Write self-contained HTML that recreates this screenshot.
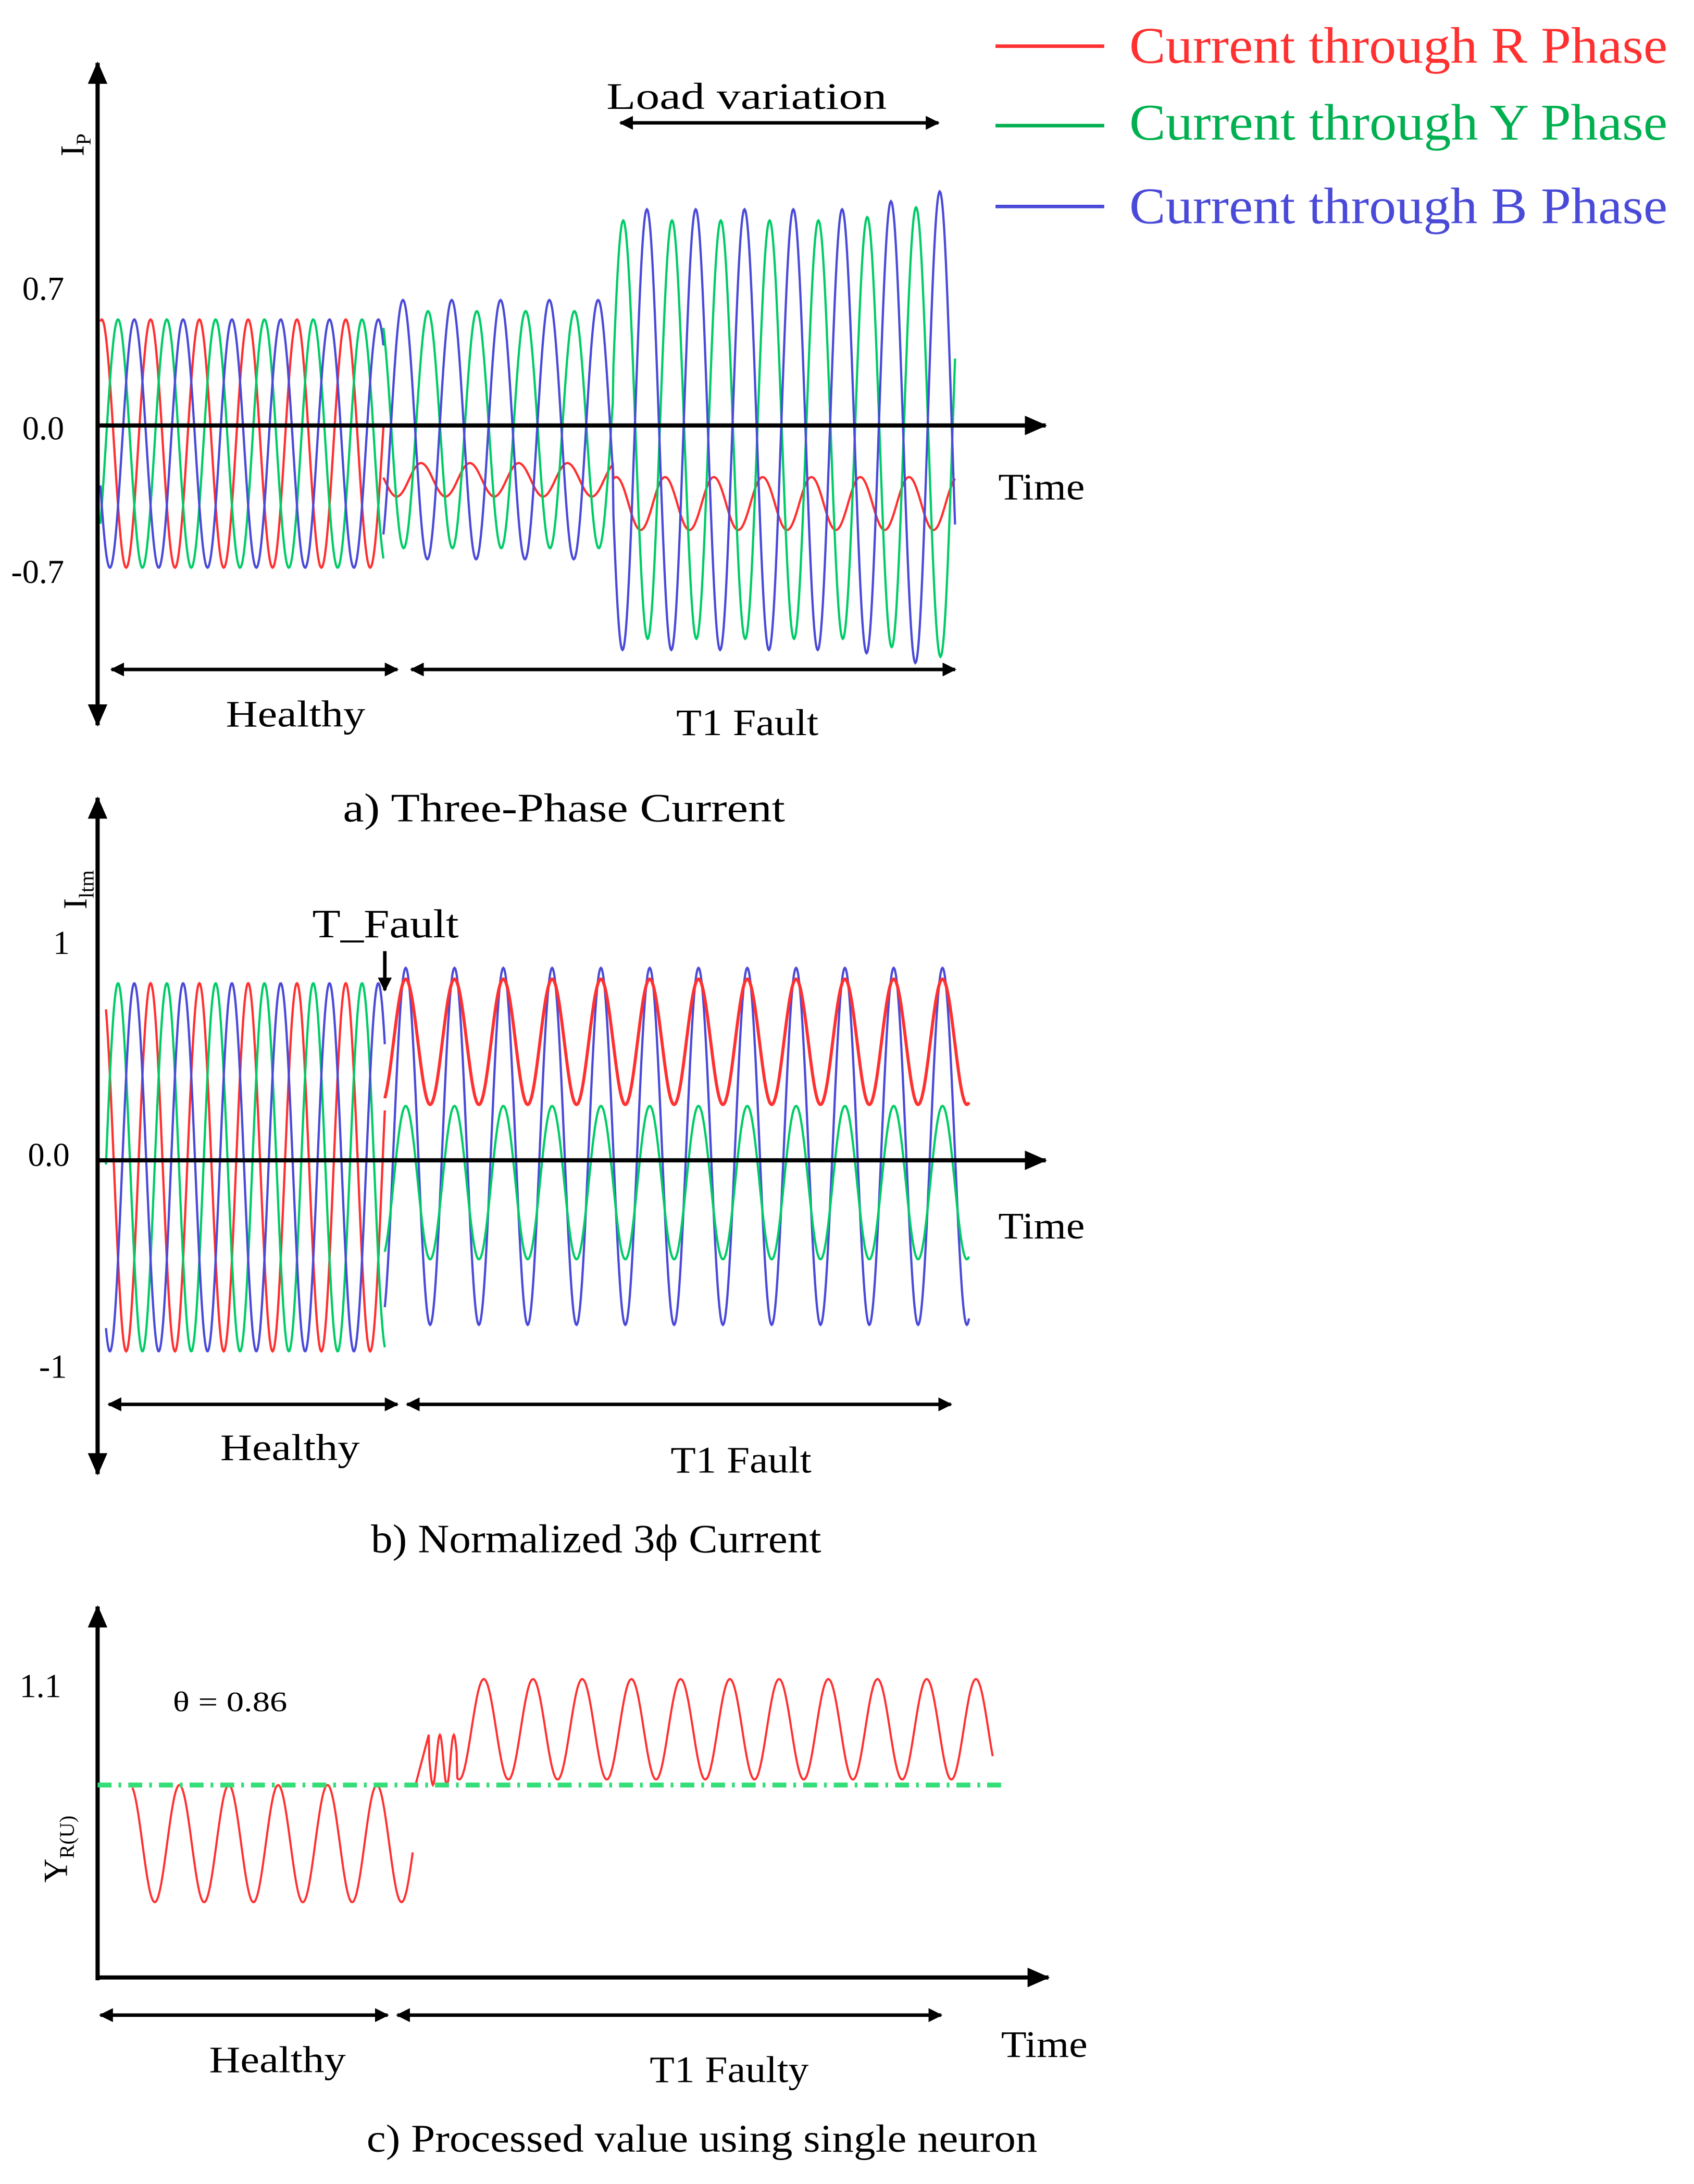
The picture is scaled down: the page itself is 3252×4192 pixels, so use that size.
<!DOCTYPE html>
<html><head><meta charset="utf-8">
<style>
html,body{margin:0;padding:0;background:#fff;}
svg{display:block;}
text{font-family:"Liberation Serif",serif;}
</style></head>
<body>
<svg id="s" width="3252" height="4192" viewBox="0 0 1215 1566" xmlns="http://www.w3.org/2000/svg">
<defs>
<marker id="ah" markerWidth="10" markerHeight="10" refX="9" refY="5" orient="auto-start-reverse" markerUnits="userSpaceOnUse"><path d="M0,0 L10,5 L0,10 z" fill="#000"/></marker>
<marker id="ab" markerWidth="16" markerHeight="14" refX="15" refY="7" orient="auto-start-reverse" markerUnits="userSpaceOnUse"><path d="M0,0 L16,7 L0,14 z" fill="#000"/></marker>
</defs>
<g id="waves" fill="none" stroke-width="1.6"></g>
<g stroke="#000" stroke-width="3" fill="none">
<line x1="70" y1="520" x2="70" y2="45" marker-end="url(#ab)" marker-start="url(#ab)"/>
<line x1="70" y1="305" x2="750" y2="305" marker-end="url(#ab)"/>
<line x1="80" y1="480" x2="285" y2="480" marker-start="url(#ah)" marker-end="url(#ah)" stroke-width="2.5"/>
<line x1="295" y1="480" x2="685" y2="480" marker-start="url(#ah)" marker-end="url(#ah)" stroke-width="2.5"/>
<line x1="445" y1="88" x2="673" y2="88" marker-start="url(#ah)" marker-end="url(#ah)" stroke-width="2.5"/>
<line x1="70" y1="1057" x2="70" y2="572" marker-end="url(#ab)" marker-start="url(#ab)"/>
<line x1="70" y1="832" x2="750" y2="832" marker-end="url(#ab)"/>
<line x1="78" y1="1007" x2="285" y2="1007" marker-start="url(#ah)" marker-end="url(#ah)" stroke-width="2.5"/>
<line x1="292" y1="1007" x2="682" y2="1007" marker-start="url(#ah)" marker-end="url(#ah)" stroke-width="2.5"/>
<line x1="276" y1="682" x2="276" y2="710" marker-end="url(#ah)" stroke-width="2.5"/>
<line x1="70" y1="1420" x2="70" y2="1152" marker-end="url(#ab)"/>
<line x1="70" y1="1418" x2="752" y2="1418" marker-end="url(#ab)"/>
<line x1="72" y1="1445" x2="278" y2="1445" marker-start="url(#ah)" marker-end="url(#ah)" stroke-width="2.5"/>
<line x1="285" y1="1445" x2="675" y2="1445" marker-start="url(#ah)" marker-end="url(#ah)" stroke-width="2.5"/>
</g>
<line x1="70" y1="1280" x2="720" y2="1280" stroke="#33dd77" stroke-width="3.5" stroke-dasharray="10,5,2,5"/>
<line x1="714" y1="33" x2="792" y2="33" stroke="#ff3030" stroke-width="2.5"/>
<line x1="714" y1="90" x2="792" y2="90" stroke="#00b050" stroke-width="2.5"/>
<line x1="714" y1="148" x2="792" y2="148" stroke="#4a4ad8" stroke-width="2.5"/>
<text x="810" y="45" font-size="37" fill="#ff3030" textLength="386" lengthAdjust="spacingAndGlyphs">Current through R Phase</text>
<text x="810" y="100" font-size="37" fill="#00b050" textLength="386" lengthAdjust="spacingAndGlyphs">Current through Y Phase</text>
<text x="810" y="160" font-size="37" fill="#4a4ad8" textLength="386" lengthAdjust="spacingAndGlyphs">Current through B Phase</text>
<g font-size="27" fill="#000" lengthAdjust="spacingAndGlyphs">
<text x="16" y="215" font-size="24">0.7</text>
<text x="16" y="315" font-size="24">0.0</text>
<text x="8" y="418" font-size="24">-0.7</text>
<text transform="translate(60,112) rotate(-90)" font-size="24">I<tspan font-size="15" dy="5">P</tspan></text>
<text x="716" y="358" textLength="62" lengthAdjust="spacingAndGlyphs">Time</text>
<text x="162" y="521" textLength="100" lengthAdjust="spacingAndGlyphs">Healthy</text>
<text x="485" y="527" textLength="102" lengthAdjust="spacingAndGlyphs">T1 Fault</text>
<text x="435" y="78" textLength="201" lengthAdjust="spacingAndGlyphs">Load variation</text>
<text x="246" y="589" font-size="29" textLength="317" lengthAdjust="spacingAndGlyphs">a) Three-Phase Current</text>

<text x="38" y="684" font-size="24">1</text>
<text x="20" y="836" font-size="24">0.0</text>
<text x="28" y="988" font-size="24">-1</text>
<text transform="translate(62,652) rotate(-90)" font-size="24">I<tspan font-size="15" dy="5">ltm</tspan></text>
<text x="224" y="672" font-size="29" textLength="105" lengthAdjust="spacingAndGlyphs">T_Fault</text>
<text x="716" y="888" textLength="62" lengthAdjust="spacingAndGlyphs">Time</text>
<text x="158" y="1047" textLength="100" lengthAdjust="spacingAndGlyphs">Healthy</text>
<text x="481" y="1056" textLength="101" lengthAdjust="spacingAndGlyphs">T1 Fault</text>
<text x="266" y="1113" font-size="29" textLength="323" lengthAdjust="spacingAndGlyphs">b) Normalized 3ϕ Current</text>

<text x="14" y="1217" font-size="24">1.1</text>
<text x="124" y="1227" font-size="20" textLength="82" lengthAdjust="spacingAndGlyphs">θ = 0.86</text>
<text transform="translate(48,1350) rotate(-90)" font-size="24">Y<tspan font-size="15" dy="5">R(U)</tspan></text>
<text x="718" y="1475" textLength="62" lengthAdjust="spacingAndGlyphs">Time</text>
<text x="150" y="1486" textLength="98" lengthAdjust="spacingAndGlyphs">Healthy</text>
<text x="466" y="1493" textLength="114" lengthAdjust="spacingAndGlyphs">T1 Faulty</text>
<text x="263" y="1543" font-size="28" textLength="481" lengthAdjust="spacingAndGlyphs">c) Processed value using single neuron</text>
</g>
<script>
(function(){
var g=document.getElementById('waves');
function add(f,x0,x1,col,w){var d='';for(var x=x0;x<=x1;x+=0.5){var y=f(x);d+=(x==x0?'M':'L')+x.toFixed(1)+','+y.toFixed(1)+' ';}
var p=document.createElementNS('http://www.w3.org/2000/svg','path');p.setAttribute('d',d);p.setAttribute('stroke',col);p.setAttribute('stroke-width',w||1.6);g.appendChild(p);}
var R='#ff3030',G='#00cc66',B='#4a4ad8',T=2*Math.PI,P=35;
var cols=[R,G,B];
for(var i=0;i<3;i++)(function(i){add(function(x){return 318-89*Math.cos(T*(x-73)/P - i*T/3);},72,275,cols[i]);})(i);
function ampA(x){ if(x<440) return 85; return 150+Math.max(0,x-610)*0.2; }
add(function(x){var c=x<440?344:361, a=x<440?12:19;return c-a*Math.cos(T*(x-302)/P);},275,685,R);
add(function(x){return 308-ampA(x)*Math.cos(T*(x-307)/P);},275,685,G);
add(function(x){return 308-(ampA(x)+8)*Math.cos(T*(x-289)/P);},275,685,B);
for(var i=0;i<3;i++)(function(i){add(function(x){return 837-132*Math.cos(T*(x-73)/P - i*T/3);},76,276,cols[i]);})(i);
add(function(x){return 822-128*Math.cos(T*(x-291)/P);},276,695,B);
add(function(x){return 848-55*Math.cos(T*(x-291)/P);},276,695,G);
add(function(x){return 747-45*Math.cos(T*(x-291)/P);},276,695,R,2.2);
add(function(x){return 1322+42*Math.cos(T*(x-111)/35.4);},95,296,R,1.5);
add(function(x){
  if(x<308) return 1280-(x-298)*3.8;
  if(x<328) return 1262+18*Math.sin(T*(x-308)/10);
  return 1240-36*Math.cos(T*(x-347)/35.3);},298,712,R,1.5);
})();
</script>
</svg>
</body></html>
